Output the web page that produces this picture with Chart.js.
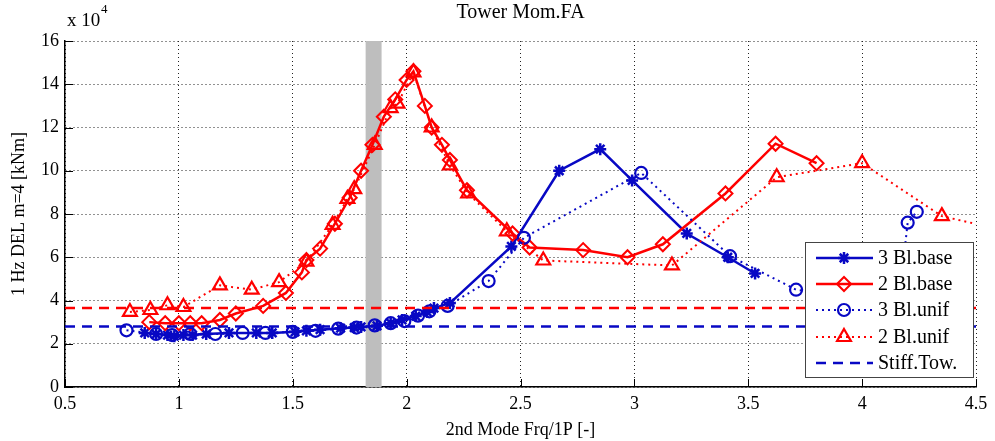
<!DOCTYPE html>
<html>
<head>
<meta charset="utf-8">
<script src="https://cdn.jsdelivr.net/npm/chart.js@4/dist/chart.umd.min.js"></script>
<style>
html,body{margin:0;padding:0;background:#fff;}
#wrap{width:995px;height:441px;position:relative;}
</style>
</head>
<body>
<div id="wrap"><canvas id="c" width="995" height="441"></canvas></div>
<script>
// ---- data (y in units of 10^4 kNm) ----
const chartTitle = 'Tower Mom.FA';
const xTitle = '2nd Mode Frq/1P [-]';
const yTitle = '1 Hz DEL m=4 [kNm]';
const xTicks = [0.5, 1, 1.5, 2, 2.5, 3, 3.5, 4, 4.5];
const yTicks = [0, 2, 4, 6, 8, 10, 12, 14, 16];
const seriesNames = ['3 Bl.base', '2 Bl.base', '3 Bl.unif', '2 Bl.unif', 'Stiff.Tow.'];

const bl3BaseX = [0.85,0.90,0.95,0.98,1.02,1.06,1.12,1.22,1.34,1.41,1.51,1.56,1.62,1.71,1.77,1.80,1.87,1.93,1.98,2.04,2.09,2.12,2.19,2.46,2.67,2.85,2.99,3.23,3.41,3.53];
const bl3BaseY = [2.50,2.45,2.40,2.35,2.40,2.40,2.45,2.50,2.50,2.50,2.55,2.60,2.65,2.72,2.75,2.78,2.83,2.95,3.10,3.28,3.47,3.65,3.88,6.50,10.0,11.0,9.55,7.10,6.00,5.25];

const bl2BaseX = [0.87,0.94,1.00,1.05,1.10,1.18,1.25,1.37,1.47,1.54,1.56,1.62,1.685,1.75,1.80,1.85,1.90,1.95,2.00,2.03,2.08,2.11,2.155,2.19,2.265,2.465,2.54,2.775,2.97,3.125,3.40,3.62,3.80];
const bl2BaseY = [3.00,2.95,2.95,2.95,2.95,3.10,3.40,3.75,4.35,5.30,5.87,6.40,7.55,8.75,10.0,11.2,12.5,13.3,14.2,14.6,13.0,12.0,11.2,10.5,9.10,7.10,6.45,6.33,6.00,6.60,8.95,11.25,10.35];

const bl3UnifX = [0.77,0.90,0.97,1.05,1.16,1.28,1.38,1.50,1.60,1.70,1.78,1.86,1.93,1.99,2.05,2.10,2.18,2.36,2.515,3.03,3.42,3.71,4.16,4.20,4.24];
const bl3UnifY = [2.62,2.45,2.40,2.45,2.45,2.50,2.50,2.55,2.60,2.70,2.75,2.85,2.95,3.05,3.30,3.50,3.75,4.90,6.90,9.90,6.05,4.50,3.80,7.60,8.10];

const bl2UnifX = [0.785,0.875,0.95,1.02,1.18,1.32,1.44,1.56,1.675,1.74,1.77,1.86,1.93,1.96,2.03,2.11,2.19,2.27,2.44,2.60,3.165,3.625,4.00,4.35,4.60];
const bl2UnifY = [3.47,3.56,3.78,3.70,4.70,4.50,4.85,5.80,7.50,8.70,9.15,11.2,12.9,13.1,14.55,12.0,10.25,8.95,7.20,5.85,5.62,9.70,10.35,7.90,7.30];

const stiffX = [0.5, 4.5];
const stiff3Y = [2.80, 2.80];
const stiff2Y = [3.65, 3.65];
const bandX = [1.82, 1.89];

// ---- styling ----
const BLUE = '#0808c4';
const RED = '#ff0000';
const FONT = '"Liberation Serif", "DejaVu Serif", serif';
const zip = (xs, ys) => xs.map((x, i) => ({x: x, y: ys[i]}));

const specs = [
  {label: seriesNames[0], color: BLUE, dash: [], width: 2.5, style: 'star', r: 6, pw: 2.5, data: zip(bl3BaseX, bl3BaseY)},
  {label: seriesNames[1], color: RED, dash: [], width: 2.5, style: 'rectRot', r: 7, pw: 2, data: zip(bl2BaseX, bl2BaseY)},
  {label: seriesNames[2], color: BLUE, dash: [2, 4], width: 2, style: 'circle', r: 6, pw: 2.2, data: zip(bl3UnifX, bl3UnifY)},
  {label: seriesNames[3], color: RED, dash: [2, 4], width: 2, style: 'triangle', r: 8, pw: 2.2, data: zip(bl2UnifX, bl2UnifY)},
  {label: seriesNames[4], color: BLUE, dash: [10, 7], width: 2.5, style: false, r: 0, pw: 0, data: zip(stiffX, stiff3Y)}
];

const datasets = specs.map((s, i) => ({
  label: s.label,
  data: s.data,
  borderColor: s.color,
  backgroundColor: 'rgba(0,0,0,0)',
  borderWidth: s.width,
  borderDash: s.dash,
  pointStyle: s.style,
  pointRadius: s.r,
  pointBorderWidth: s.pw,
  pointBorderColor: s.color,
  pointBackgroundColor: 'rgba(0,0,0,0)',
  tension: 0,
  fill: false,
  order: 5 - i
}));
datasets.push({
  label: '_stiff2',
  data: zip(stiffX, stiff2Y),
  borderColor: RED,
  backgroundColor: 'rgba(0,0,0,0)',
  borderWidth: 2.5,
  borderDash: [10, 7],
  pointRadius: 0,
  fill: false,
  order: 0
});

const decor = {
  id: 'decor',
  beforeDatasetsDraw(chart) {
    const {ctx, chartArea: a, scales: {x}} = chart;
    ctx.save();
    ctx.fillStyle = '#bebebe';
    const x0 = x.getPixelForValue(bandX[0]), x1 = x.getPixelForValue(bandX[1]);
    ctx.fillRect(x0, a.top, x1 - x0, a.bottom - a.top);
    ctx.restore();
  },
  afterDraw(chart) {
    const {ctx, chartArea: a, scales: {x, y}} = chart;
    ctx.save();
    // inward tick marks
    ctx.strokeStyle = '#000';
    ctx.lineWidth = 1;
    ctx.setLineDash([]);
    ctx.beginPath();
    xTicks.forEach(v => {
      const px = Math.round(x.getPixelForValue(v)) + 0.5;
      ctx.moveTo(px, a.bottom); ctx.lineTo(px, a.bottom - 8);
    });
    yTicks.forEach(v => {
      const py = Math.round(y.getPixelForValue(v)) + 0.5;
      ctx.moveTo(a.left, py); ctx.lineTo(a.left + 8, py);
    });
    ctx.stroke();
    // title
    ctx.fillStyle = '#000';
    ctx.font = '20px ' + FONT;
    ctx.textAlign = 'center';
    ctx.textBaseline = 'middle';
    ctx.fillText(chartTitle, (a.left + a.right) / 2, 13);
    // exponent label
    ctx.textAlign = 'left';
    ctx.font = '19px ' + FONT;
    ctx.fillText('x 10', a.left + 2, 21);
    ctx.font = '13px ' + FONT;
    ctx.fillText('4', a.left + 36, 10);
    // legend
    const L = 805, T = 242, W = 168, H = 135;
    ctx.fillStyle = '#fff';
    ctx.fillRect(L, T, W, H);
    ctx.strokeStyle = '#444';
    ctx.lineWidth = 1;
    ctx.strokeRect(L + 0.5, T + 0.5, W, H);
    const rows = [258, 284, 310, 337, 363];
    specs.forEach((s, i) => {
      const ry = rows[i];
      ctx.save();
      ctx.strokeStyle = s.color;
      ctx.lineWidth = s.width;
      ctx.setLineDash(s.dash);
      ctx.beginPath();
      ctx.moveTo(L + 11, ry); ctx.lineTo(L + 68, ry);
      ctx.stroke();
      ctx.setLineDash([]);
      if (s.style) {
        ctx.fillStyle = 'rgba(0,0,0,0)';
        ctx.lineWidth = s.pw;
        Chart.helpers.drawPoint(ctx, {pointStyle: s.style, radius: s.r, rotation: 0, borderWidth: s.pw}, L + 39, ry);
      }
      ctx.restore();
      ctx.fillStyle = '#000';
      ctx.font = '20px ' + FONT;
      ctx.textAlign = 'left';
      ctx.textBaseline = 'middle';
      ctx.fillText(s.label, L + 73, ry + 1);
    });
    ctx.restore();
  }
};

new Chart(document.getElementById('c'), {
  type: 'line',
  data: {datasets: datasets},
  plugins: [decor],
  options: {
    responsive: false,
    animation: false,
    devicePixelRatio: 1,
    layout: {padding: {top: 41, right: 19, left: 0, bottom: 0}},
    plugins: {legend: {display: false}, title: {display: false}, tooltip: {enabled: false}},
    scales: {
      x: {
        type: 'linear', min: 0.5, max: 4.5,
        afterBuildTicks: s => { s.ticks = xTicks.map(v => ({value: v})); },
        afterFit: s => { s.height = 54; },
        grid: {color: '#222', lineWidth: 1, drawTicks: false},
        border: {display: true, color: '#000', width: 1.5, dash: [1, 3]},
        ticks: {color: '#000', font: {family: FONT, size: 18}, padding: 6, maxRotation: 0, autoSkip: false,
          callback: v => String(v)},
        title: {display: true, text: xTitle, color: '#000', font: {family: FONT, size: 18}, padding: {top: 3, bottom: 0}}
      },
      y: {
        type: 'linear', min: 0, max: 16,
        afterBuildTicks: s => { s.ticks = yTicks.map(v => ({value: v})); },
        afterFit: s => { s.width = 65; },
        grid: {color: '#222', lineWidth: 1, drawTicks: false},
        border: {display: true, color: '#000', width: 1.5, dash: [1, 3]},
        ticks: {color: '#000', font: {family: FONT, size: 18}, padding: 6, autoSkip: false,
          callback: v => String(v)},
        title: {display: true, text: yTitle, color: '#000', font: {family: FONT, size: 18}, padding: {top: 8, bottom: 0}}
      }
    }
  }
});
</script>
</body>
</html>
